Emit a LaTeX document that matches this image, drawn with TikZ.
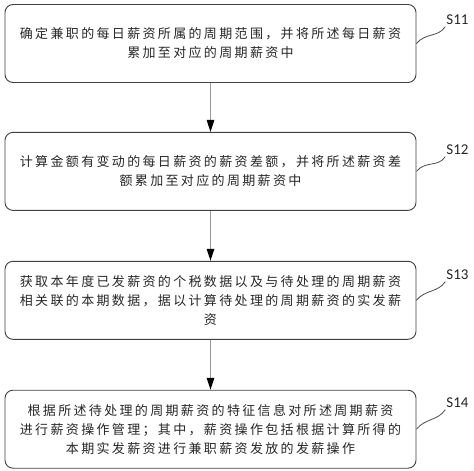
\documentclass[tikz,border=0pt]{standalone}
\usepackage{fontspec}
\setmainfont{Noto Sans CJK SC}[LetterSpace=18]
\newfontfamily\labelfont{Carlito}
\usepackage{tikz}
\usetikzlibrary{positioning}
\usetikzlibrary{arrows.meta}
\tikzset{
	stepbox/.style={draw=black!75,rounded corners=8pt,line width=0.9pt,minimum width=411pt,
		minimum height=78pt,align=center,inner sep=0pt,text=black!85,
		font=\fontsize{13pt}{19pt}\selectfont},
	steplabel/.style={font=\labelfont\fontsize{15pt}{15pt}\selectfont,inner sep=0pt,text=black!85},
	flow/.style={draw=black!40,line width=1.2pt,-{Triangle[length=12pt,width=7.5pt,color=black]}},
	leader/.style={draw=black!70,line width=0.8pt}
}

\begin{document}
\begin{tikzpicture}[x=1pt,y=1pt]
	\useasboundingbox (0,0) rectangle (474,-471);
	% steps
	\node [stepbox] (1) at (210.5,-43.5) {确定兼职的每日薪资所属的周期范围，并将所述每日薪资\\累加至对应的周期薪资中};
	\node [stepbox,below=49pt of 1] (2) {计算金额有变动的每日薪资的薪资差额，并将所述薪资差\\额累加至对应的周期薪资中};
	\node [stepbox,below=50pt of 2] (3) {获取本年度已发薪资的个税数据以及与待处理的周期薪资\\相关联的本期数据，据以计算待处理的周期薪资的实发薪\\资};
	\node [stepbox,below=50pt of 3] (4) {根据所述待处理的周期薪资的特征信息对所述周期薪资\\进行薪资操作管理；其中，薪资操作包括根据计算所得的\\本期实发薪资进行兼职薪资发放的发薪操作};
	% labels
	\node [steplabel] (s11) at (457.5,-19.5) {S11};
	\node [steplabel] (s12) at (457.5,-149.5) {S12};
	\node [steplabel] (s13) at (457.5,-274.5) {S13};
	\node [steplabel] (s14) at (457.5,-402.5) {S14};
	% arrows
	\draw [flow] (1) -- (2);
	\draw [flow] (2) -- (3);
	\draw [flow] (3) -- (4);
	% leaders
	\draw [leader] (1.east) .. controls +(9,11) and +(-7,-11) .. ([shift={(-1,-2)}]s11.south west);
	\draw [leader] (2.east) .. controls +(9,11) and +(-7,-11) .. ([shift={(-1,-2)}]s12.south west);
	\draw [leader] (3.east) .. controls +(9,11) and +(-7,-11) .. ([shift={(-1,-2)}]s13.south west);
	\draw [leader] (4.east) .. controls +(9,11) and +(-7,-11) .. ([shift={(-1,-2)}]s14.south west);
\end{tikzpicture}
\end{document}
